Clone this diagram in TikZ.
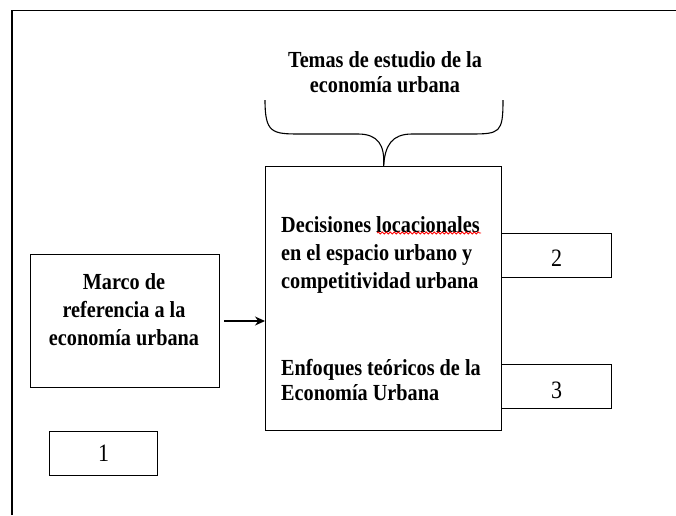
\documentclass[tikz,border=0pt]{standalone}
\usepackage{fontspec}
\setmainfont{Liberation Serif}
\newfontfamily\condserif[FakeStretch=0.88]{Liberation Serif}
\usetikzlibrary{decorations.pathmorphing,arrows.meta}
\begin{document}
\begin{tikzpicture}[x=1pt,y=-1pt,
  frame/.style={draw=black,line width=1.2pt},
  boxed/.style={draw=black,line width=1.2pt,inner sep=0pt},
  bold/.style={font=\condserif\fontsize{23}{28}\selectfont\bfseries,inner sep=0pt},
  boldtwo/.style={font=\condserif\fontsize{23}{25}\selectfont\bfseries,inner sep=0pt},
  num/.style={font=\condserif\fontsize{25}{28}\selectfont,inner sep=0pt}]
\useasboundingbox (0,0) rectangle (676,515);
\draw[frame] (12,515) -- (12,10.5) -- (676,10.5);
% boxes
\node[boxed,minimum width=236pt,minimum height=264pt,anchor=north west] (main) at (265,166) {};
\node[boxed,minimum width=189pt,minimum height=133pt,anchor=north west] (marco) at (30,254) {};
\node[boxed,minimum width=110pt,minimum height=44pt,anchor=north west] (b2) at (501,233) {};
\node[boxed,minimum width=110pt,minimum height=44pt,anchor=north west] (b3) at (501,364) {};
\node[boxed,minimum width=108pt,minimum height=44pt,anchor=north west] (b1) at (49,431) {};
% numbers
\node[num] (n1) at (b1.center) {1};
\node[num] (n2) at ([yshift=-3pt]b2.center) {2};
\node[num] (n3) at ([yshift=-4pt]b3.center) {3};
% texts
\node[boldtwo,align=center] (title) at (385,72) {Temas de estudio de la\\economía urbana};
\node[bold,align=center] (mtxt) at (124,310) {Marco de\\referencia a la\\economía urbana};
\node[bold,align=left,anchor=west] (dtxt) at (281,255) {Decisiones {locacionales}\\en el espacio urbano y\\competitividad urbana};
\node[boldtwo,align=left,anchor=west] (etxt) at (281,380) {Enfoques teóricos de la\\Economía Urbana};
% spell-check squiggle
\coordinate (sqa) at (377,233);
\coordinate (sqb) at (481,233);
\draw[red,line width=0.8pt,decorate,decoration={snake,amplitude=1pt,segment length=4pt}] (sqa) -- (sqb);
% brace
\coordinate (tip) at (main.north);
\draw[line width=1.1pt] (265,100) .. controls (265,133) and (272,134) .. (300,134) -- (358,134)
  .. controls (378,134) and (385,145) .. (tip);
\draw[line width=1.1pt] (tip) .. controls (385,145) and (392,134) .. (412,134) -- (470,134)
  .. controls (500,134) and (503,133) .. (503,100);
% arrow
\draw[line width=1.1pt,-{Stealth[length=10pt,width=9pt]}] ([xshift=4pt]marco.east |- 0,321) -- (main.west |- 0,321);
\end{tikzpicture}
\end{document}
